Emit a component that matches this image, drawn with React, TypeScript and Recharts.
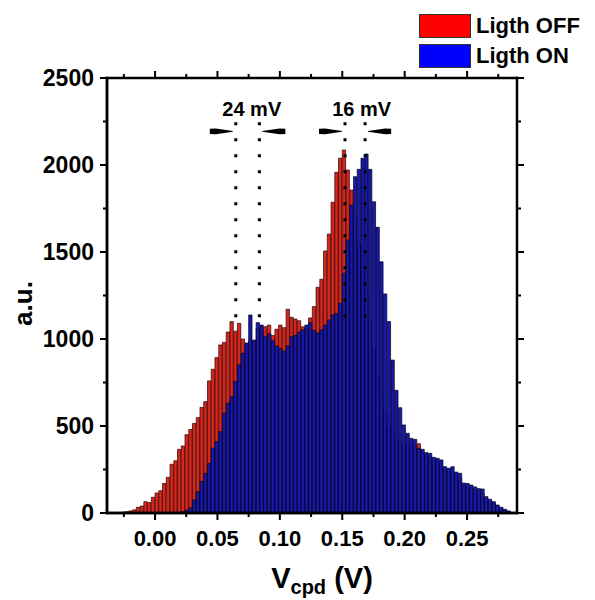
import React from 'react';
import { ComposedChart, Bar, XAxis, YAxis, ReferenceLine, ReferenceDot, Legend, Label } from 'recharts';

if (typeof document !== 'undefined') {
  document.body.style.margin = '0';
}

// Histogram bin centres (V), bin width 0.003 V
const BIN_CENTERS = [
  -0.0345, -0.0315, -0.0285, -0.0255, -0.0225, -0.0195, -0.0165, -0.0135, -0.0105, -0.0075,
  -0.0045, -0.0015, 0.0015, 0.0045, 0.0075, 0.0105, 0.0135, 0.0165, 0.0195, 0.0225,
  0.0255, 0.0285, 0.0315, 0.0345, 0.0375, 0.0405, 0.0435, 0.0465, 0.0495, 0.0525,
  0.0555, 0.0585, 0.0615, 0.0645, 0.0675, 0.0705, 0.0735, 0.0765, 0.0795, 0.0825,
  0.0855, 0.0885, 0.0915, 0.0945, 0.0975, 0.1005, 0.1035, 0.1065, 0.1095, 0.1125,
  0.1155, 0.1185, 0.1215, 0.1245, 0.1275, 0.1305, 0.1335, 0.1365, 0.1395, 0.1425,
  0.1455, 0.1485, 0.1515, 0.1545, 0.1575, 0.1605, 0.1635, 0.1665, 0.1695, 0.1725,
  0.1755, 0.1785, 0.1815, 0.1845, 0.1875, 0.1905, 0.1935, 0.1965, 0.1995, 0.2025,
  0.2055, 0.2085, 0.2115, 0.2145, 0.2175, 0.2205, 0.2235, 0.2265, 0.2295, 0.2325,
  0.2355, 0.2385, 0.2415, 0.2445, 0.2475, 0.2505, 0.2535, 0.2565, 0.2595, 0.2625,
  0.2655, 0.2685, 0.2715, 0.2745, 0.2775, 0.2805, 0.2835, 0.2865,
];

const LIGHT_OFF = [
  0, 0, 3, 5, 8, 12, 18, 33, 40, 65,
  60, 90, 115, 128, 170, 205, 280, 300, 366, 385,
  450, 480, 515, 548, 607, 640, 759, 826, 893, 966,
  981, 1040, 1100, 1045, 1090, 1000, 960, 990, 985, 1060,
  1040, 1071, 1080, 1020, 1056, 1080, 1065, 1171, 1125, 1115,
  1105, 1070, 1060, 1121, 1186, 1297, 1343, 1506, 1603, 1786,
  1958, 2039, 2086, 1971, 1856, 1700, 1550, 1400, 1250, 1100,
  950, 800, 680, 580, 500, 450, 420, 400, 390, 385,
  390, 380, 398, 350, 330, 320, 300, 290, 270, 250,
  240, 230, 215, 200, 160, 150, 140, 130, 120, 110,
  85, 70, 55, 40, 28, 18, 8, 0,
];

const LIGHT_ON = [
  0, 0, 0, 0, 0, 0, 0, 0, 0, 0,
  0, 0, 0, 0, 0, 0, 1, 2, 3, 8,
  15, 29, 75, 122, 180, 228, 285, 372, 410, 467,
  573, 630, 668, 755, 851, 918, 977, 1138, 994, 1094,
  1080, 1013, 1030, 990, 960, 945, 930, 960, 1013, 1020,
  1040, 1052, 1080, 1094, 1050, 1034, 1052, 1080, 1109, 1138,
  1145, 1205, 1378, 1569, 1770, 1933, 1975, 2039, 2063, 1975,
  1789, 1642, 1444, 1259, 1100, 879, 705, 605, 506, 458,
  429, 423, 372, 366, 347, 343, 320, 314, 305, 266,
  257, 266, 235, 228, 172, 170, 161, 150, 140, 138,
  94, 79, 65, 46, 33, 21, 12, 0,
];

const SERIES_NAMES = ['Ligth OFF', 'Ligth ON'];
const LEGEND_COLORS = ['#ff0000', '#0000ff'];

const X_MAJOR = [0, 0.05, 0.1, 0.15, 0.2, 0.25];
const X_MINOR = [-0.025, 0.025, 0.075, 0.125, 0.175, 0.225, 0.275];
const Y_MAJOR = [0, 500, 1000, 1500, 2000, 2500];
const Y_MINOR = [250, 750, 1250, 1750, 2250];
const X_DOMAIN: [number, number] = [-0.0385, 0.29];
const Y_DOMAIN: [number, number] = [0, 2500];
const BIN_WIDTH = 0.003;

// Annotations: peak shifts
const SHIFTS = [
  { label: '24 mV', off: 0.0647, on: 0.0836, textX: 0.0775 },
  { label: '16 mV', off: 0.1522, on: 0.1683, textX: 0.1655 },
];
const DOT_TOP = 2245;
const DOT_BOTTOM = 1100;
const ARROW_Y = 2193;
const TEXT_Y = 2280;

const W = 595;
const H = 600;
const M = { top: 77, right: 77, bottom: 57, left: 47 };
const X_AXIS_H = 30;
const Y_AXIS_W = 60;
const PLOT_W = W - M.left - Y_AXIS_W - M.right - 1;
const BAR_PX = (PLOT_W * BIN_WIDTH) / (X_DOMAIN[1] - X_DOMAIN[0]);

const FONT = "'Liberation Sans', Arial, Helvetica, sans-serif";

const data = BIN_CENTERS.map((v, i) => ({ v, off: LIGHT_OFF[i], on: LIGHT_ON[i] }));

const isIn = (arr: number[], v: number) => arr.some((m) => Math.abs(m - v) < 1e-9);

const BottomTick = (props: any) => {
  const { x, y, payload } = props;
  const major = isIn(X_MAJOR, payload.value);
  return (
    <g>
      <line x1={x} y1={y} x2={x} y2={y + (major ? 7 : 4)} stroke="#000" strokeWidth={2} />
      {major && (
        <text x={x} y={y + 33} textAnchor="middle" fontFamily={FONT} fontWeight="bold" fontSize={22} fill="#000">
          {payload.value.toFixed(2)}
        </text>
      )}
    </g>
  );
};

const TopTick = (props: any) => {
  const { x, y, payload } = props;
  const major = isIn(X_MAJOR, payload.value);
  return <line x1={x} y1={y} x2={x} y2={y - (major ? 7 : 4)} stroke="#000" strokeWidth={2} />;
};

const LeftTick = (props: any) => {
  const { x, y, payload } = props;
  const major = isIn(Y_MAJOR, payload.value);
  return (
    <g>
      <line x1={x} y1={y} x2={x - (major ? 7 : 4)} y2={y} stroke="#000" strokeWidth={2} />
      {major && (
        <text x={x - 13} y={y} dy="0.36em" textAnchor="end" fontFamily={FONT} fontWeight="bold" fontSize={23} fill="#000">
          {payload.value}
        </text>
      )}
    </g>
  );
};

const RightTick = (props: any) => {
  const { x, y, payload } = props;
  const major = isIn(Y_MAJOR, payload.value);
  return <line x1={x} y1={y} x2={x + (major ? 7 : 4)} y2={y} stroke="#000" strokeWidth={2} />;
};

const XTitle = (props: any) => {
  const vb = props.viewBox || {};
  const cx = vb.x + vb.width / 2 + 10;
  return (
    <text x={cx} y={vb.y + 75} textAnchor="middle" fontFamily={FONT} fontWeight="bold" fontSize={29} fill="#000">
      V<tspan fontSize={20} dy={6}>cpd</tspan>
      <tspan dy={-6}> (V)</tspan>
    </text>
  );
};

const YTitle = (props: any) => {
  const vb = props.viewBox || {};
  const cy = vb.y + vb.height / 2 + 8;
  const cx = vb.x - 24;
  return (
    <text
      x={cx}
      y={cy}
      transform={`rotate(-90, ${cx}, ${cy})`}
      textAnchor="middle"
      dy="0.36em"
      fontFamily={FONT}
      fontWeight="bold"
      fontSize={26}
      fill="#000"
    >
      a.u.
    </text>
  );
};

const makeArrow = (dir: 'right' | 'left') => (p: any) => {
  const { cx, cy } = p;
  const s = dir === 'right' ? -1 : 1;
  const t0 = cx + s * 26;
  const tip = cx + s * 3;
  return (
    <polygon
      points={`${t0},${cy - 2.6} ${t0 - s * 6},${cy - 2.8} ${tip},${cy - 0.4} ${tip},${cy + 0.4} ${t0 - s * 6},${cy + 2.8} ${t0},${cy + 2.6}`}
      fill="#000"
    />
  );
};

const makeText = (label: string) => (p: any) => (
  <text x={p.cx} y={p.cy} textAnchor="middle" fontFamily={FONT} fontWeight="bold" fontSize={20} fill="#000">
    {label}
  </text>
);

const LegendContent = (props: any) => {
  const payload = props.payload || [];
  return (
    <div style={{ fontFamily: FONT, fontWeight: 'bold', fontSize: 22, color: '#000' }}>
      {payload.map((p: any, i: number) => {
        const idx = SERIES_NAMES.indexOf(p.value);
        return (
          <div key={i} style={{ display: 'flex', alignItems: 'center', height: 30 }}>
            <div
              style={{
                width: 50,
                height: 22,
                background: LEGEND_COLORS[idx >= 0 ? idx : i],
                border: '1.5px solid #333',
                marginRight: 5,
              }}
            />
            <span style={{ lineHeight: '24px' }}>{p.value}</span>
          </div>
        );
      })}
    </div>
  );
};

const FRAME_X = [X_DOMAIN[0], X_DOMAIN[1]];
const FRAME_Y = [Y_DOMAIN[0], Y_DOMAIN[1]];

export default function App() {
  const xTicks = [...X_MINOR, ...X_MAJOR].sort((a, b) => a - b);
  const yTicks = [...Y_MINOR, ...Y_MAJOR].sort((a, b) => a - b);
  const axisLine = { stroke: '#000', strokeWidth: 2.5 };
  return (
    <div style={{ width: W, height: H, background: '#fff' }}>
      <ComposedChart width={W} height={H} data={data} margin={M} barGap={0} barCategoryGap={0}>
        <XAxis
          xAxisId="bottom"
          dataKey="v"
          type="number"
          orientation="bottom"
          domain={X_DOMAIN}
          allowDataOverflow
          ticks={xTicks}
          interval={0}
          height={X_AXIS_H}
          tickSize={0}
          tickMargin={0}
          tickLine={false}
          tick={<BottomTick />}
          axisLine={axisLine}
          stroke="#000"
        >
          <Label content={<XTitle />} />
        </XAxis>
        <XAxis
          xAxisId="top"
          dataKey="v"
          type="number"
          orientation="top"
          domain={X_DOMAIN}
          allowDataOverflow
          ticks={xTicks}
          interval={0}
          height={1}
          tickSize={0}
          tickMargin={0}
          tickLine={false}
          tick={<TopTick />}
          axisLine={false}
        />
        <YAxis
          yAxisId="left"
          type="number"
          orientation="left"
          domain={Y_DOMAIN}
          allowDataOverflow
          ticks={yTicks}
          interval={0}
          width={Y_AXIS_W}
          tickSize={0}
          tickMargin={0}
          tickLine={false}
          tick={<LeftTick />}
          axisLine={axisLine}
          stroke="#000"
        >
          <Label content={<YTitle />} />
        </YAxis>
        <YAxis
          yAxisId="right"
          type="number"
          orientation="right"
          domain={Y_DOMAIN}
          allowDataOverflow
          ticks={yTicks}
          interval={0}
          width={1}
          tickSize={0}
          tickMargin={0}
          tickLine={false}
          tick={<RightTick />}
          axisLine={false}
        />
        <Legend
          layout="vertical"
          align="center"
          verticalAlign="middle"
          content={<LegendContent />}
          wrapperStyle={{ position: 'absolute', left: 419, top: 11, width: 176, height: 60 }}
        />
        <Bar
          xAxisId="bottom"
          yAxisId="left"
          dataKey="off"
          name={SERIES_NAMES[0]}
          fill="#d8261c"
          stroke="#2a0000"
          strokeWidth={0.7}
          barSize={BAR_PX}
          isAnimationActive={false}
        />
        <Bar
          xAxisId="top"
          yAxisId="left"
          dataKey="on"
          name={SERIES_NAMES[1]}
          fill="#1818aa"
          stroke="#000018"
          strokeWidth={0.7}
          barSize={BAR_PX}
          isAnimationActive={false}
        />
        {FRAME_X.map((x) => (
          <ReferenceLine
            key={`fx-${x}`}
            xAxisId="bottom"
            yAxisId="left"
            x={x}
            ifOverflow="visible"
            stroke="#000"
            strokeWidth={2.5}
            strokeLinecap="square"
          />
        ))}
        {FRAME_Y.map((y) => (
          <ReferenceLine
            key={`fy-${y}`}
            xAxisId="bottom"
            yAxisId="left"
            y={y}
            ifOverflow="visible"
            stroke="#000"
            strokeWidth={2.5}
            strokeLinecap="square"
          />
        ))}
        {SHIFTS.map((s) => (
          <ReferenceLine
            key={`l1-${s.label}`}
            xAxisId="bottom"
            yAxisId="left"
            segment={[{ x: s.off, y: DOT_TOP }, { x: s.off, y: DOT_BOTTOM }]}
            stroke="#000"
            strokeWidth={3}
            strokeDasharray="3 13"
          />
        ))}
        {SHIFTS.map((s) => (
          <ReferenceLine
            key={`l2-${s.label}`}
            xAxisId="bottom"
            yAxisId="left"
            segment={[{ x: s.on, y: DOT_TOP }, { x: s.on, y: DOT_BOTTOM }]}
            stroke="#000"
            strokeWidth={3}
            strokeDasharray="3 13"
          />
        ))}
        {SHIFTS.map((s) => (
          <ReferenceDot key={`a1-${s.label}`} xAxisId="bottom" yAxisId="left" x={s.off} y={ARROW_Y} shape={makeArrow('right')} />
        ))}
        {SHIFTS.map((s) => (
          <ReferenceDot key={`a2-${s.label}`} xAxisId="bottom" yAxisId="left" x={s.on} y={ARROW_Y} shape={makeArrow('left')} />
        ))}
        {SHIFTS.map((s) => (
          <ReferenceDot key={`t-${s.label}`} xAxisId="bottom" yAxisId="left" x={s.textX} y={TEXT_Y} shape={makeText(s.label)} />
        ))}
      </ComposedChart>
    </div>
  );
}
